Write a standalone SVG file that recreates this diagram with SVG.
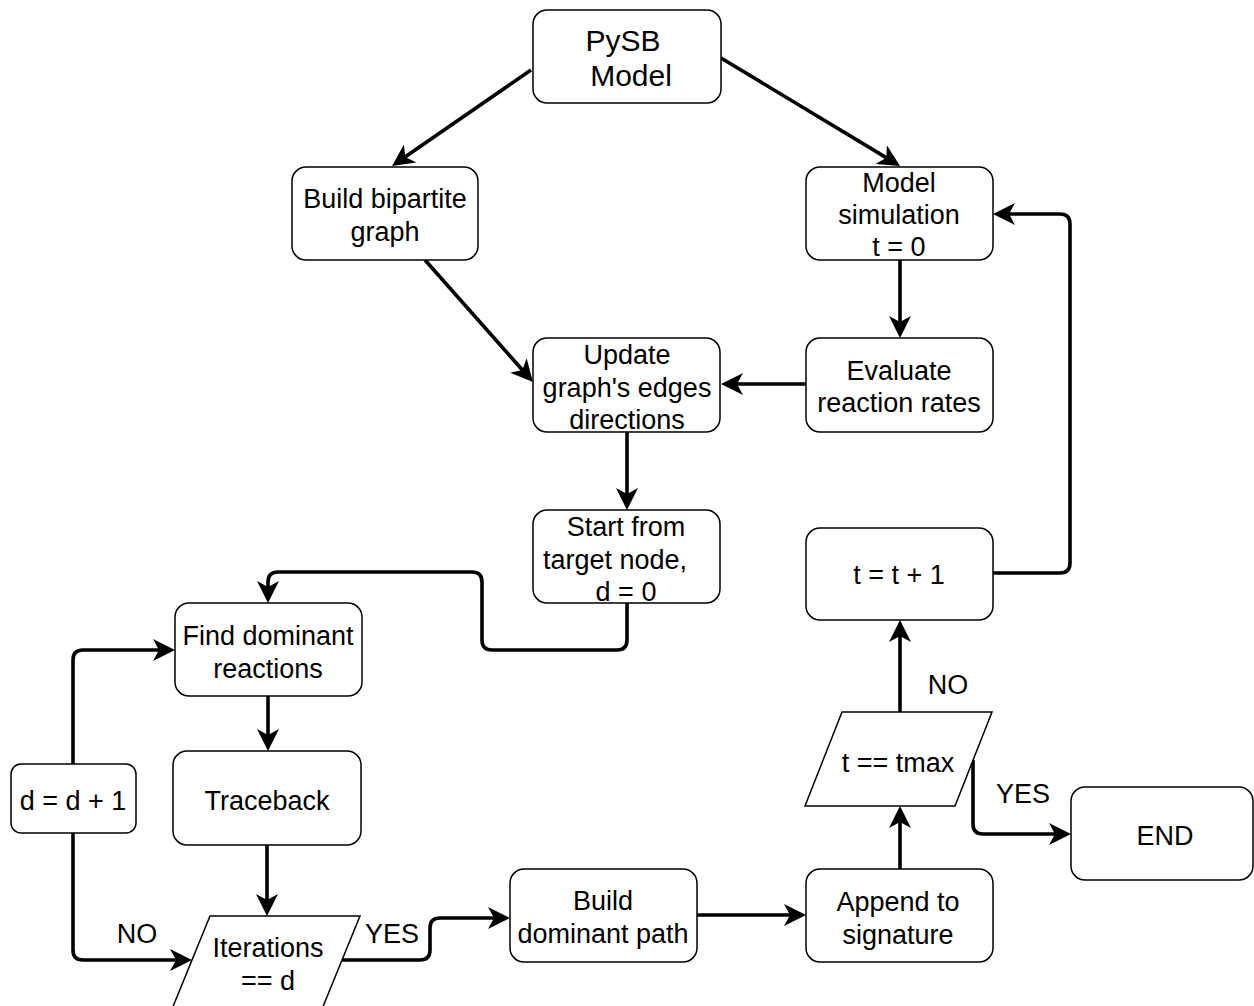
<svg xmlns="http://www.w3.org/2000/svg" width="1254" height="1006" viewBox="0 0 1254 1006">
<style>
.n{fill:#fff;stroke:#000;stroke-width:1.5}
.t{font-family:"Liberation Sans",Arial,sans-serif;font-size:27px;fill:#000;text-anchor:middle}
.e{fill:none;stroke:#000;stroke-width:3.6}
</style>
<defs>
<marker id="a" markerUnits="userSpaceOnUse" markerWidth="24" markerHeight="24" refX="16" refY="11" orient="auto">
<path d="M0,0 L22,11 L0,22 L6,11 Z" fill="#000"/>
</marker>
</defs>
<rect width="1254" height="1006" fill="#fff"/>
<g id="connectors">
<path class="e" marker-end="url(#a)" d="M531,70 L397,162.6"/>
<path class="e" marker-end="url(#a)" d="M721,58 L894.9,162.9"/>
<path class="e" marker-end="url(#a)" d="M425,260 L529,377.5"/>
<path class="e" marker-end="url(#a)" d="M900,260 L900,332"/>
<path class="e" marker-end="url(#a)" d="M806,384 L727,384"/>
<path class="e" marker-end="url(#a)" d="M627,432 L627,504"/>
<path class="e" marker-end="url(#a)" d="M627,603 L627,640 Q627,650 617,650 L492,650 Q482,650 482,640 L482,582 Q482,572 472,572 L278,572 Q268,572 268,582 L268,597"/>
<path class="e" marker-end="url(#a)" d="M268,696 L268,745"/>
<path class="e" marker-end="url(#a)" d="M267,845 L267,910"/>
<path class="e" marker-end="url(#a)" d="M342,960 L420,960 Q430,960 430,950 L430,928 Q430,918 440,918 L504,918"/>
<path class="e" marker-end="url(#a)" d="M73,764 L73,660 Q73,650 83,650 L169,650"/>
<path class="e" marker-end="url(#a)" d="M73,833 L73,950 Q73,960 83,960 L186,960"/>
<path class="e" marker-end="url(#a)" d="M697,915 L800,915"/>
<path class="e" marker-end="url(#a)" d="M900,869 L900,812"/>
<path class="e" marker-end="url(#a)" d="M900,712 L900,626"/>
<path class="e" marker-end="url(#a)" d="M973,760 L973,824 Q973,834 983,834 L1065,834"/>
<path class="e" marker-end="url(#a)" d="M993,573 L1060,573 Q1070,573 1070,563 L1070,224 Q1070,214 1060,214 L999,214"/>
<text class="t" x="948" y="694">NO</text>
<text class="t" x="1023" y="803">YES</text>
<text class="t" x="137" y="943">NO</text>
<text class="t" x="392" y="943">YES</text>
</g>
<g id="pysb"><rect class="n" x="533" y="10" width="188" height="93" rx="14"/>
<text class="t" style="font-size:30px" x="623" y="51">PySB</text><text class="t" style="font-size:30px" x="631" y="86">Model</text></g>
<g id="build"><rect class="n" x="292" y="167" width="186" height="93" rx="14"/>
<text class="t" x="385" y="208">Build bipartite</text><text class="t" x="385" y="241">graph</text></g>
<g id="modelsim"><rect class="n" x="806" y="167" width="187" height="93" rx="14"/>
<text class="t" x="899" y="192">Model</text><text class="t" x="899" y="224">simulation</text><text class="t" x="899" y="256">t = 0</text></g>
<g id="update"><rect class="n" x="533" y="338" width="187" height="94" rx="14"/>
<text class="t" x="627" y="364">Update</text><text class="t" x="627" y="397">graph's edges</text><text class="t" x="627" y="429">directions</text></g>
<g id="evaluate"><rect class="n" x="806" y="338" width="187" height="94" rx="14"/>
<text class="t" x="899" y="380">Evaluate</text><text class="t" x="899" y="412">reaction rates</text></g>
<g id="start"><rect class="n" x="533" y="510" width="187" height="93" rx="14"/>
<text class="t" x="626" y="536">Start from</text><text class="t" x="615" y="569">target node,</text><text class="t" x="626" y="601">d = 0</text></g>
<g id="tplus"><rect class="n" x="806" y="528" width="187" height="92" rx="14"/>
<text class="t" x="899" y="584">t = t + 1</text></g>
<g id="find"><rect class="n" x="175" y="603" width="187" height="93" rx="14"/>
<text class="t" x="268" y="645">Find dominant</text><text class="t" x="268" y="678">reactions</text></g>
<g id="traceback"><rect class="n" x="173" y="751" width="188" height="94" rx="14"/>
<text class="t" x="267" y="810">Traceback</text></g>
<g id="dinc"><rect class="n" x="11" y="764" width="125" height="69" rx="10"/>
<text class="t" x="73" y="810">d = d + 1</text></g>
<g id="iterations"><polygon class="n" points="210,916 360,916 322,1009 172,1009"/>
<text class="t" x="268" y="957">Iterations</text><text class="t" x="268" y="990">== d</text></g>
<g id="builddom"><rect class="n" x="510" y="869" width="187" height="93" rx="14"/>
<text class="t" x="603" y="910">Build</text><text class="t" x="603" y="943">dominant path</text></g>
<g id="append"><rect class="n" x="806" y="869" width="187" height="93" rx="14"/>
<text class="t" x="898" y="911">Append to</text><text class="t" x="898" y="944">signature</text></g>
<g id="tmax"><polygon class="n" points="842,712 992,712 955,806 805,806"/>
<text class="t" x="898" y="772">t == tmax</text></g>
<g id="end"><rect class="n" x="1071" y="787" width="182" height="93" rx="14"/>
<text class="t" x="1165" y="845">END</text></g>
</svg>
